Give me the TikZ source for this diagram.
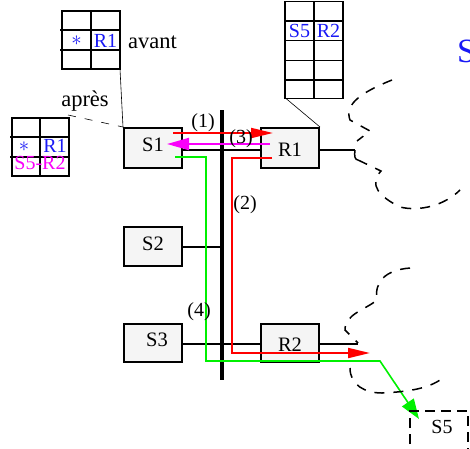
\documentclass[tikz,border=0pt]{standalone}
\usepackage{fontspec}
\setmainfont{Liberation Serif}
\usetikzlibrary{arrows.meta}
\definecolor{tblue}{RGB}{25,25,245}
\definecolor{tgreen}{RGB}{0,240,0}
\definecolor{tmag}{RGB}{250,0,250}
\newcommand{\upby}[2]{\raisebox{#1}[\height][\depth]{#2}}
\begin{document}
\begin{tikzpicture}[x=1pt,y=-1pt,
  txt/.style={font=\fontsize{20}{24}\selectfont,inner sep=0pt},
  lbl/.style={font=\fontsize{22.5}{26}\selectfont,inner sep=0pt},
  box/.style={draw,line width=2pt,fill=black!4,minimum width=58pt,minimum height=40pt,inner sep=0pt,font=\fontsize{20.5}{24}\selectfont},
  conn/.style={line width=2pt},
  tbl/.style={line width=1.2pt},
  thin/.style={line width=0.6pt},
  cloud/.style={line width=1.5pt,dash pattern=on 10pt off 9pt},
  redarr/.style={red,line width=2pt,-{Triangle[length=22pt,width=10pt]}},
  magarr/.style={tmag,line width=2pt,-{Triangle[length=22pt,width=12pt]}},
  grnarr/.style={tgreen,line width=1.6pt,-{Triangle[length=20pt,width=14pt]}}]
\useasboundingbox (0,0) rectangle (470,448);

% boxes
\node[box] (S1) at (153,148) {\upby{3pt}{S1}};
\node[box,minimum height=39pt] (S2) at (153,246.5) {\upby{3pt}{S2}};
\node[box,minimum height=38pt] (S3) at (153,343) {\upby{3pt}{\hspace{8pt}S3}};
\node[box] (R1) at (290,148) {\upby{-2pt}{R1}};
\node[box,minimum height=38pt] (R2) at (290,343) {\upby{-2pt}{R2}};

% bus
\coordinate (bt) at (222,110);
\coordinate (bb) at (222,380);
\draw[line width=4pt] (bt) -- (bb);

% connections
\draw[conn] ([yshift=-2pt]S1.east) -- ([yshift=-2pt]R1.west);
\draw[conn] (S2.east) -- (S2.east -| bt);
\draw[conn] ([yshift=-1pt]S3.east) -- ([yshift=-1pt]R2.west);
\coordinate (r1c) at (355,150);
\draw[conn] ([yshift=-2pt]R1.east) -- (r1c);
\coordinate (r2c) at (358,344);
\draw[conn] ([yshift=-1pt]R2.east) -- (r2c);

% table avant
\draw[tbl] (62,11) rectangle (120,69);
\draw[tbl] (91,11) -- (91,69) (60,30) -- (120,30) (60,50) -- (120,50);
\node[txt,text=tblue] (ta1) at (76.5,41) {$\ast$};
\node[txt,text=tblue] (ta2) at (105.5,41) {R1};
\node[lbl,anchor=west] (avant) at (128,42) {avant};
\coordinate (tabA) at (120,69);
\draw[thin] (tabA) -- (S1.north west);

% table apres
\draw[tbl] (12,118) rectangle (69,176);
\draw[tbl] (40,118) -- (40,176) (10,137) -- (69,137) (10,157) -- (69,157);
\node[txt,text=tblue] (tp1) at (24,147) {$\ast$};
\node[txt,text=tblue] (tp2) at (55,146) {R1};
\node[txt,text=tmag] (tp3) at (40,163) {S5-R2};
\node[lbl] (apres) at (85,101) {après};
\coordinate (tabP) at (68,115);
\draw[thin,dash pattern=on 8pt off 9pt] (tabP) -- (S1.north west);

% table R1
\draw[tbl] (285,1.5) rectangle (343,98.5);
\draw[tbl] (314,1.5) -- (314,98.5) (285,21) -- (343,21) (285,40.5) -- (343,40.5) (285,60.5) -- (343,60.5) (285,80) -- (343,80);
\node[txt,text=tblue] (tr1) at (299.5,31) {S5};
\node[txt,text=tblue] (tr2) at (328.5,31) {R2};
\coordinate (tabR) at (286,98.5);
\draw[thin] (tabR) -- (R1.north east);

% big S
\node[anchor=west,inner sep=0pt,text=tblue,font=\fontsize{34}{40}\selectfont] (bigS) at (457,51) {S};

% arrows
\coordinate (a1s) at (173,133);
\coordinate (a1e) at (273,133);
\draw[redarr] (a1s) -- (a1e);
\coordinate (a3s) at (270,144);
\coordinate (a3e) at (167,144);
\draw[magarr] (a3s) -- (a3e);
\coordinate (a2s) at (272,158);
\coordinate (a2e) at (370,353);
\draw[redarr] (a2s) -- (232,158) -- (232,353) -- (a2e);
\coordinate (a4s) at (175,157);
\coordinate (a4e) at (419,419);
\draw[grnarr] (a4s) -- (206,157) -- (206,361) -- (380,361) -- (a4e);

% labels
\node[txt] (l1) at (203,123) {(1)};
\node[txt] (l3) at (241,139) {(3)};
\node[txt] (l2) at (245,205) {(2)};
\node[txt] (l4) at (199,312) {(4)};

% clouds
\draw[cloud] (392,80) .. controls (362,92) and (344,104) .. (350,120) -- (370,131) -- (357,141);
\draw[line width=1.5pt] (r1c) .. controls (354,156) and (355,160) .. (358,160);
\draw[cloud] (358,160) -- (381,171) .. controls (368,185) and (380,197) .. (400,207) .. controls (420,212) and (445,205) .. (460,190);
\draw[cloud] (410,268) .. controls (385,270) and (374,282) .. (377,300) .. controls (365,310) and (345,314) .. (345,330) -- (358,343);
\draw[cloud] (350,368) .. controls (350,385) and (365,393) .. (382,393) .. controls (402,392) and (425,390) .. (440,380);

% S5 dashed box
\draw[line width=1.5pt,dash pattern=on 10pt off 6pt] (410,460) -- (410,411) -- (468,411) -- (468,460);
\node[txt] (S5) at (442,427) {S5};
\end{tikzpicture}
\end{document}
